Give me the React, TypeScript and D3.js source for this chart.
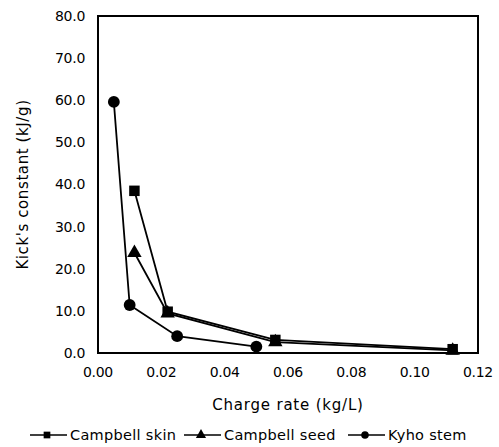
import React, { useEffect, useRef } from "react";
import * as d3 from "d3";

const skinX = [0.0115, 0.022, 0.056, 0.112];
const skinY = [38.5, 9.8, 3.1, 0.9];
const seedX = [0.0115, 0.022, 0.056, 0.112];
const seedY = [23.8, 9.4, 2.6, 0.6];
const stemX = [0.005, 0.01, 0.025, 0.05];
const stemY = [59.6, 11.4, 4.0, 1.5];
const xTicks = [0, 0.02, 0.04, 0.06, 0.08, 0.1, 0.12];
const yTicks = [0, 10, 20, 30, 40, 50, 60, 70, 80];
const seriesNames = ["Campbell skin", "Campbell seed", "Kyho stem"];

const App = () => {
  const ref = useRef<SVGSVGElement>(null);

  useEffect(() => {
    const width = 499;
    const height = 447;
    const margin = { top: 16, right: 21, bottom: 94, left: 98 };
    const font = "'DejaVu Sans', Verdana, sans-serif";

    const svg = d3.select(ref.current);
    svg.selectAll("*").remove();

    const x = d3.scaleLinear().domain([0, 0.12]).range([margin.left, width - margin.right]);
    const y = d3.scaleLinear().domain([0, 80]).range([height - margin.bottom, margin.top]);

    svg
      .append("rect")
      .attr("x", margin.left)
      .attr("y", margin.top)
      .attr("width", width - margin.left - margin.right)
      .attr("height", height - margin.top - margin.bottom)
      .attr("fill", "none")
      .attr("stroke", "#000")
      .attr("stroke-width", 2);

    svg
      .append("g")
      .selectAll("text")
      .data(yTicks)
      .enter()
      .append("text")
      .attr("x", margin.left - 13)
      .attr("y", (d) => y(d))
      .attr("dy", "0.35em")
      .attr("text-anchor", "end")
      .style("font-family", font)
      .style("font-size", "14px")
      .style("letter-spacing", "-0.3px")
      .text((d) => d.toFixed(1));

    svg
      .append("g")
      .selectAll("text")
      .data(xTicks)
      .enter()
      .append("text")
      .attr("x", (d) => x(d))
      .attr("y", height - margin.bottom + 24)
      .attr("text-anchor", "middle")
      .style("font-family", font)
      .style("font-size", "14px")
      .style("letter-spacing", "-0.3px")
      .text((d) => d.toFixed(2));

    svg
      .append("text")
      .attr("x", (margin.left + width - margin.right) / 2)
      .attr("y", 410)
      .attr("text-anchor", "middle")
      .style("font-family", font)
      .style("font-size", "15px")
      .style("letter-spacing", "0.8px")
      .text("Charge rate (kg/L)");

    svg
      .append("text")
      .attr("transform", `translate(28, ${(margin.top + height - margin.bottom) / 2}) rotate(-90)`)
      .attr("text-anchor", "middle")
      .style("font-family", font)
      .style("font-size", "15px")
      .style("letter-spacing", "0.6px")
      .text("Kick's constant (kJ/g)");

    const line = d3
      .line<[number, number]>()
      .x((d) => x(d[0]))
      .y((d) => y(d[1]));

    const series = [
      { xs: skinX, ys: skinY, shape: d3.symbolSquare, size: 110 },
      { xs: seedX, ys: seedY, shape: d3.symbolTriangle, size: 90 },
      { xs: stemX, ys: stemY, shape: d3.symbolCircle, size: 110 },
    ];

    series.forEach((s) => {
      const pts: [number, number][] = s.xs.map((v, i) => [v, s.ys[i]]);
      svg
        .append("path")
        .datum(pts)
        .attr("fill", "none")
        .attr("stroke", "#000")
        .attr("stroke-width", 1.8)
        .attr("d", line);
      svg
        .append("g")
        .selectAll("path")
        .data(pts)
        .enter()
        .append("path")
        .attr("transform", (d) => `translate(${x(d[0])}, ${y(d[1])})`)
        .attr("d", d3.symbol().type(s.shape).size(s.size)())
        .attr("fill", "#000");
    });

    // legend
    const legendX = [30, 184, 348];
    const legendY = 435;
    series.forEach((s, i) => {
      const lx = legendX[i];
      svg
        .append("line")
        .attr("x1", lx)
        .attr("x2", lx + 37)
        .attr("y1", legendY)
        .attr("y2", legendY)
        .attr("stroke", "#000")
        .attr("stroke-width", 1.5);
      svg
        .append("path")
        .attr("transform", `translate(${lx + 17}, ${legendY})`)
        .attr("d", d3.symbol().type(s.shape).size(45)())
        .attr("fill", "#000");
      svg
        .append("text")
        .attr("x", lx + 40)
        .attr("y", legendY)
        .attr("dy", "0.35em")
        .style("font-family", font)
        .style("font-size", "14.5px")
        .style("letter-spacing", "0.3px")
        .text(seriesNames[i]);
    });
  }, []);

  return (
    <div style={{ position: "absolute", left: 0, top: 0 }}>
      <svg ref={ref} width={499} height={447} style={{ background: "#fff" }} />
    </div>
  );
};

export default App;
